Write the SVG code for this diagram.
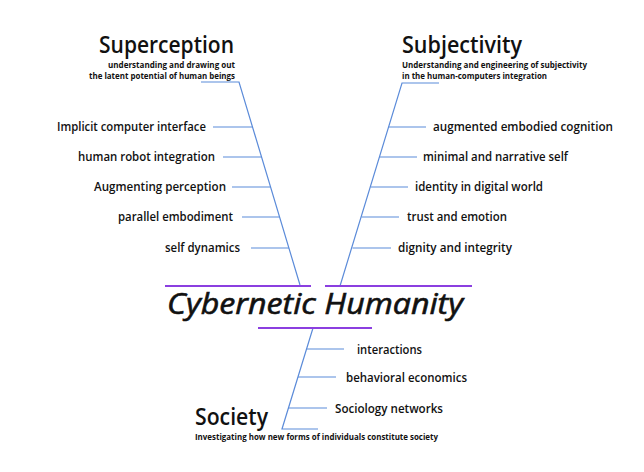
<svg xmlns="http://www.w3.org/2000/svg" width="644" height="472" viewBox="0 0 644 472">
<style>
.bg{fill:#ffffff}
.c{stroke:#5b8bd9;stroke-width:1.2;fill:none}
.p{stroke:#8b3fe0;stroke-width:2;fill:none}
text{font-family:"Open Sans","Noto Sans","Liberation Sans",sans-serif;fill:#111111}
.t{font-size:23px;font-weight:600}
.s{font-size:8px;font-weight:700}
.l{font-size:12px;font-weight:600}
.h{font-size:29px;font-style:italic;font-weight:400;stroke:#111111;stroke-width:0.6}
</style>
<rect class="bg" x="0" y="0" width="644" height="472"/>
<g id="connectors">
<path class="c" d="M201 82H239L300 285"/>
<path class="c" d="M213 127H252.5M223 157H261.5M232 187H270.5M242 217H279.5M251 248H289"/>
<path class="c" d="M439 83H402L340 286"/>
<path class="c" d="M426 127H388.5M417 157H379.5M408 187H370.5M399 217H361.5M391 248H352.5"/>
<path class="c" d="M313 328L282 429H318"/>
<path class="c" d="M344 349H306.5M336 377H298M327 408H288.5"/>
<path class="p" d="M165 286H311M325 286H472M258 328H372"/>
</g>
<g id="center">
<text class="h" x="167" y="314" textLength="296" lengthAdjust="spacingAndGlyphs">Cybernetic Humanity</text>
</g>
<g id="superception">
<text class="t" x="99" y="52.5" textLength="135" lengthAdjust="spacingAndGlyphs">Superception</text>
<text class="s" x="108" y="67.5" textLength="127" lengthAdjust="spacingAndGlyphs">understanding and drawing out</text>
<text class="s" x="89" y="78.5" textLength="146" lengthAdjust="spacingAndGlyphs">the latent potential of human beings</text>
</g>
<g id="subjectivity">
<text class="t" x="402" y="52.5" textLength="120" lengthAdjust="spacingAndGlyphs">Subjectivity</text>
<text class="s" x="402" y="67.5" textLength="185" lengthAdjust="spacingAndGlyphs">Understanding and engineering of subjectivity</text>
<text class="s" x="402" y="78.5" textLength="145" lengthAdjust="spacingAndGlyphs">in the human-computers integration</text>
</g>
<g id="society">
<text class="t" x="195" y="424.5" textLength="73" lengthAdjust="spacingAndGlyphs">Society</text>
<text class="s" x="195" y="439.5" textLength="243" lengthAdjust="spacingAndGlyphs">Investigating how new forms of individuals constitute society</text>
</g>
<g id="n-implicit"><text class="l" x="57" y="131" textLength="149" lengthAdjust="spacingAndGlyphs">Implicit computer interface</text></g>
<g id="n-robot"><text class="l" x="78" y="161" textLength="137" lengthAdjust="spacingAndGlyphs">human robot integration</text></g>
<g id="n-augmenting"><text class="l" x="94" y="191" textLength="132" lengthAdjust="spacingAndGlyphs">Augmenting perception</text></g>
<g id="n-parallel"><text class="l" x="118" y="221" textLength="115" lengthAdjust="spacingAndGlyphs">parallel embodiment</text></g>
<g id="n-selfdyn"><text class="l" x="165" y="252" textLength="75" lengthAdjust="spacingAndGlyphs">self dynamics</text></g>
<g id="n-cognition"><text class="l" x="433" y="131" textLength="180" lengthAdjust="spacingAndGlyphs">augmented embodied cognition</text></g>
<g id="n-minimal"><text class="l" x="423" y="161" textLength="145" lengthAdjust="spacingAndGlyphs">minimal and narrative self</text></g>
<g id="n-identity"><text class="l" x="415" y="191" textLength="128" lengthAdjust="spacingAndGlyphs">identity in digital world</text></g>
<g id="n-trust"><text class="l" x="407" y="221" textLength="100" lengthAdjust="spacingAndGlyphs">trust and emotion</text></g>
<g id="n-dignity"><text class="l" x="398" y="252" textLength="114" lengthAdjust="spacingAndGlyphs">dignity and integrity</text></g>
<g id="n-interactions"><text class="l" x="357" y="354" textLength="65" lengthAdjust="spacingAndGlyphs">interactions</text></g>
<g id="n-behavioral"><text class="l" x="346" y="382" textLength="121" lengthAdjust="spacingAndGlyphs">behavioral economics</text></g>
<g id="n-sociology"><text class="l" x="335" y="413" textLength="108" lengthAdjust="spacingAndGlyphs">Sociology networks</text></g>
</svg>
